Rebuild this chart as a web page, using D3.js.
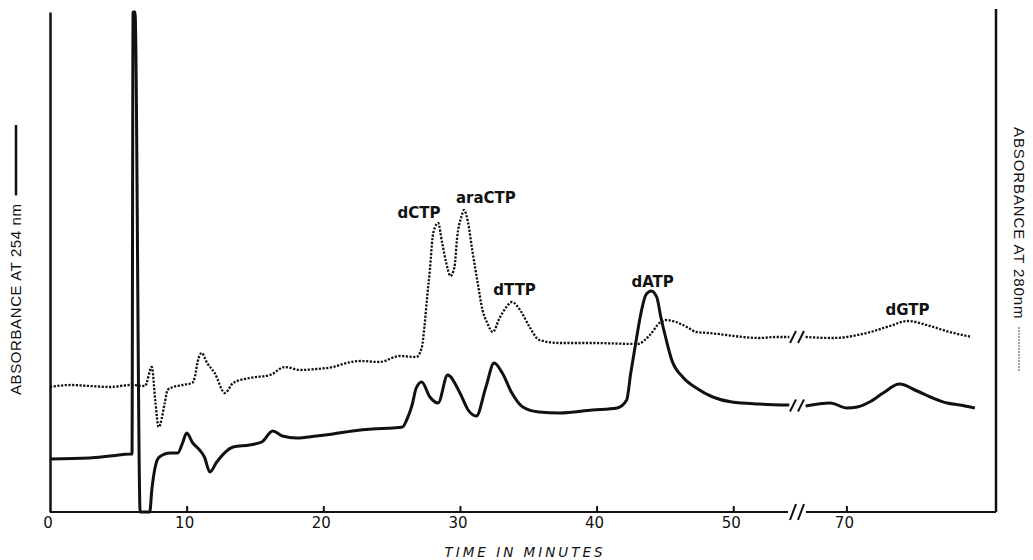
<!DOCTYPE html>
<html><head><meta charset="utf-8">
<script src="https://cdn.jsdelivr.net/npm/d3@7"></script>
<style>
body{margin:0;background:#fff;}
svg{display:block;}
</style></head>
<body>
<svg id="chart" width="1033" height="560"></svg>
<script>
// ---- data (time in minutes, relative absorbance) ----
const solidTimesA = [0,2.9,4.4,5.9,6.0,6.08,6.22,6.6,7.3,7.45,7.7,8.0,8.8,9.35,9.7,10.0,10.45,10.95,11.3,11.7,12.2,13.4,14.6,15.5,16.3,17.0,18.05,19.5,20.7,22.15,23.6,25.1,25.8,26.1,26.5,26.8,27.2,27.8,28.4,29.1,30.0,30.6,31.2,31.9,32.5,33.1,33.8,34.6,35.8,37.3,39.7,41.5,42.2,42.5,42.9,43.25,43.6,44.0,44.4,44.7,45.1,45.5,46.3,47.3,48.5,49.9,51.9,54.1];
const solidValsA  = [10.6,10.8,11.2,11.6,11.6,100,100,0,0,4.4,9.0,11.0,11.8,11.8,13.8,15.8,13.8,12.4,11.0,8.0,10.0,13.0,13.4,14.0,16.2,15.2,14.8,15.2,15.6,16.2,16.6,16.8,17.0,18.4,21.4,24.8,26.0,23.0,21.8,27.4,23.8,20.4,19.2,25.0,29.8,27.8,23.8,21.0,20.0,19.8,20.4,20.8,22.4,27.8,34.4,39.8,43.4,44.2,43.0,39.0,34.4,30.4,27.0,24.8,23.0,22.0,21.6,21.4];
const solidTimesB = [67.0,68.8,70.05,70.8,71.7,72.7,73.9,75.2,76.35,77.4,78.35,79.45];
const solidValsB  = [21.2,21.8,20.8,21.0,22.0,23.8,25.6,24.2,22.8,21.8,21.4,20.8];

const dotTimesA = [0,1.5,2.9,4.4,5.9,6.95,7.45,7.7,7.95,8.4,8.6,9.0,9.7,10.4,10.6,10.8,11.1,11.5,12.05,12.8,13.4,14.6,16.1,17.2,18.3,19.5,20.7,21.7,22.7,24.1,25.6,26.8,27.2,27.4,27.6,27.8,28.0,28.15,28.4,28.7,29.0,29.3,29.6,29.8,30.1,30.3,30.6,30.9,31.3,31.65,32.0,32.4,32.9,33.4,33.8,34.4,35.1,35.8,37.3,39.7,43.0,43.9,44.6,45.1,45.8,46.6,47.3,48.2,49.5,50.7,51.9,53.1,54.1];
const dotValsA  = [25.0,25.4,25.2,25.0,25.4,25.2,29.0,22.4,17.0,21.8,24.4,25.0,25.4,25.8,27.0,30.0,31.8,29.8,27.8,23.8,25.8,26.8,27.4,29.0,28.4,28.6,29.0,29.8,30.2,30.0,31.2,31.0,32.8,37.0,43.0,48.4,55.0,56.8,57.8,53.8,49.8,47.2,49.0,55.0,59.0,60.4,57.8,52.4,45.8,40.4,37.8,36.0,38.8,41.0,42.0,40.4,37.0,34.4,33.8,33.8,33.6,35.4,37.8,38.4,38.0,37.0,36.0,35.8,35.4,35.0,34.8,35.0,35.0];
const dotTimesB = [67.0,69.0,71.5,73.2,74.5,75.9,77.6,79.2];
const dotValsB  = [35.0,34.8,35.8,37.2,38.2,37.4,36.0,35.0];

const peakNames = ["dCTP","araCTP","dTTP","dATP","dGTP"];
const peakTimes = [27.0,31.9,34.0,44.1,74.5];
const peakVals  = [58.8,61.8,43.4,45.0,39.4];

const tickValues = [0,10,20,30,40,50,70];
const tickLabels = ["0","10","20","30","40","50","70"];
const breakFrom = 54.3, breakTo = 66;

// ---- scales ----
const x = d3.scaleLinear().domain([0, breakFrom, breakTo, 81]).range([50, 792, 792, 996]);
const y = d3.scaleLinear().domain([0, 100]).range([512, 12]);

const svg = d3.select("#chart");
const ink = "#111";

const zip = (ts, vs) => ts.map((t,i)=>[t, vs[i]]);
const line = d3.line().x(d=>x(d[0])).y(d=>y(d[1])).curve(d3.curveMonotoneX);

// dotted (280 nm)
[zip(dotTimesA,dotValsA), zip(dotTimesB,dotValsB)].forEach(seg=>{
  svg.append("path").attr("d", line(seg)).attr("fill","none")
    .attr("stroke", ink).attr("stroke-width",2.3).attr("stroke-dasharray","2.2,1.5");
});
// solid (254 nm)
[zip(solidTimesA,solidValsA), zip(solidTimesB,solidValsB)].forEach(seg=>{
  svg.append("path").attr("d", line(seg)).attr("fill","none")
    .attr("stroke", ink).attr("stroke-width",3).attr("stroke-linejoin","round");
});

// break marks on traces
function slashes(cx, cy, h){
  [-4, 4].forEach(dx=>{
    svg.append("line").attr("x1",cx+dx-3).attr("y1",cy+h/2).attr("x2",cx+dx+3).attr("y2",cy-h/2)
      .attr("stroke",ink).attr("stroke-width",2);
  });
}
const bx = x(breakFrom) + 5;
slashes(bx, y((solidValsA[solidValsA.length-1]+solidValsB[0])/2), 12);
slashes(bx, y((dotValsA[dotValsA.length-1]+dotValsB[0])/2), 12);

// axes
const xAxis = d3.axisBottom(x).tickValues(tickValues.slice(1)).tickSize(-6).tickFormat("");
const gx = svg.append("g").attr("transform",`translate(0,${y(0)})`).call(xAxis);
gx.select(".domain").remove();
gx.selectAll(".tick line").attr("stroke",ink).attr("stroke-width",2);
svg.append("line").attr("x1",x(0)).attr("x2",x(breakFrom)-4).attr("y1",y(0)).attr("y2",y(0)).attr("stroke",ink).attr("stroke-width",2);
svg.append("line").attr("x1",x(breakFrom)+14).attr("x2",x(81)).attr("y1",y(0)).attr("y2",y(0)).attr("stroke",ink).attr("stroke-width",2);
slashes(x(breakFrom)+5, y(0), 16);

svg.selectAll(".tlab").data(tickValues).enter().append("text")
  .attr("x", d=>x(d)-2).attr("y", y(0)+16).attr("text-anchor","middle")
  .attr("font-family","DejaVu Sans, sans-serif").attr("font-size",15).attr("fill",ink)
  .text((d,i)=>tickLabels[i]);

// left and right vertical axes
const yAxisL = d3.axisLeft(y).tickValues([]).tickSizeOuter(0);
svg.append("g").attr("transform",`translate(${x(0)},0)`).call(yAxisL)
  .select(".domain").attr("stroke",ink).attr("stroke-width",2.5);
svg.append("line").attr("x1",x(81)).attr("x2",x(81)).attr("y1",y(100.6)).attr("y2",y(0))
  .attr("stroke",ink).attr("stroke-width",2.5);

// axis titles
svg.append("text").attr("x",525).attr("y",557).attr("text-anchor","middle")
  .attr("font-family","DejaVu Sans, sans-serif").attr("font-size",13.5).attr("font-style","italic")
  .attr("letter-spacing",3).attr("fill",ink).text("TIME IN MINUTES");

const lt = svg.append("text").attr("transform","translate(21,395) rotate(-90)")
  .attr("font-family","Liberation Sans, Arial, sans-serif").attr("font-size",15)
  .attr("letter-spacing",0.6).attr("fill",ink).text("ABSORBANCE AT 254 nm");
const ltLen = lt.node().getComputedTextLength();
svg.append("line").attr("x1",16).attr("x2",16).attr("y1",395-ltLen-8).attr("y2",125)
  .attr("stroke",ink).attr("stroke-width",2.5);

const rt = svg.append("text").attr("transform","translate(1014,127) rotate(90)")
  .attr("font-family","Liberation Sans, Arial, sans-serif").attr("font-size",15)
  .attr("letter-spacing",0.9).attr("fill",ink).text("ABSORBANCE AT 280nm");
const rtLen = rt.node().getComputedTextLength();
svg.append("line").attr("x1",1019).attr("x2",1019).attr("y1",127+rtLen+8).attr("y2",372)
  .attr("stroke",ink).attr("stroke-width",1.5).attr("stroke-dasharray","1,2");

// peak labels
svg.selectAll(".plab").data(peakNames).enter().append("text")
  .attr("x",(d,i)=>x(peakTimes[i])).attr("y",(d,i)=>y(peakVals[i]))
  .attr("text-anchor","middle").attr("font-family","DejaVu Sans, sans-serif")
  .attr("font-weight","bold").attr("font-size",15).attr("fill",ink).text(d=>d);
</script>
</body></html>
